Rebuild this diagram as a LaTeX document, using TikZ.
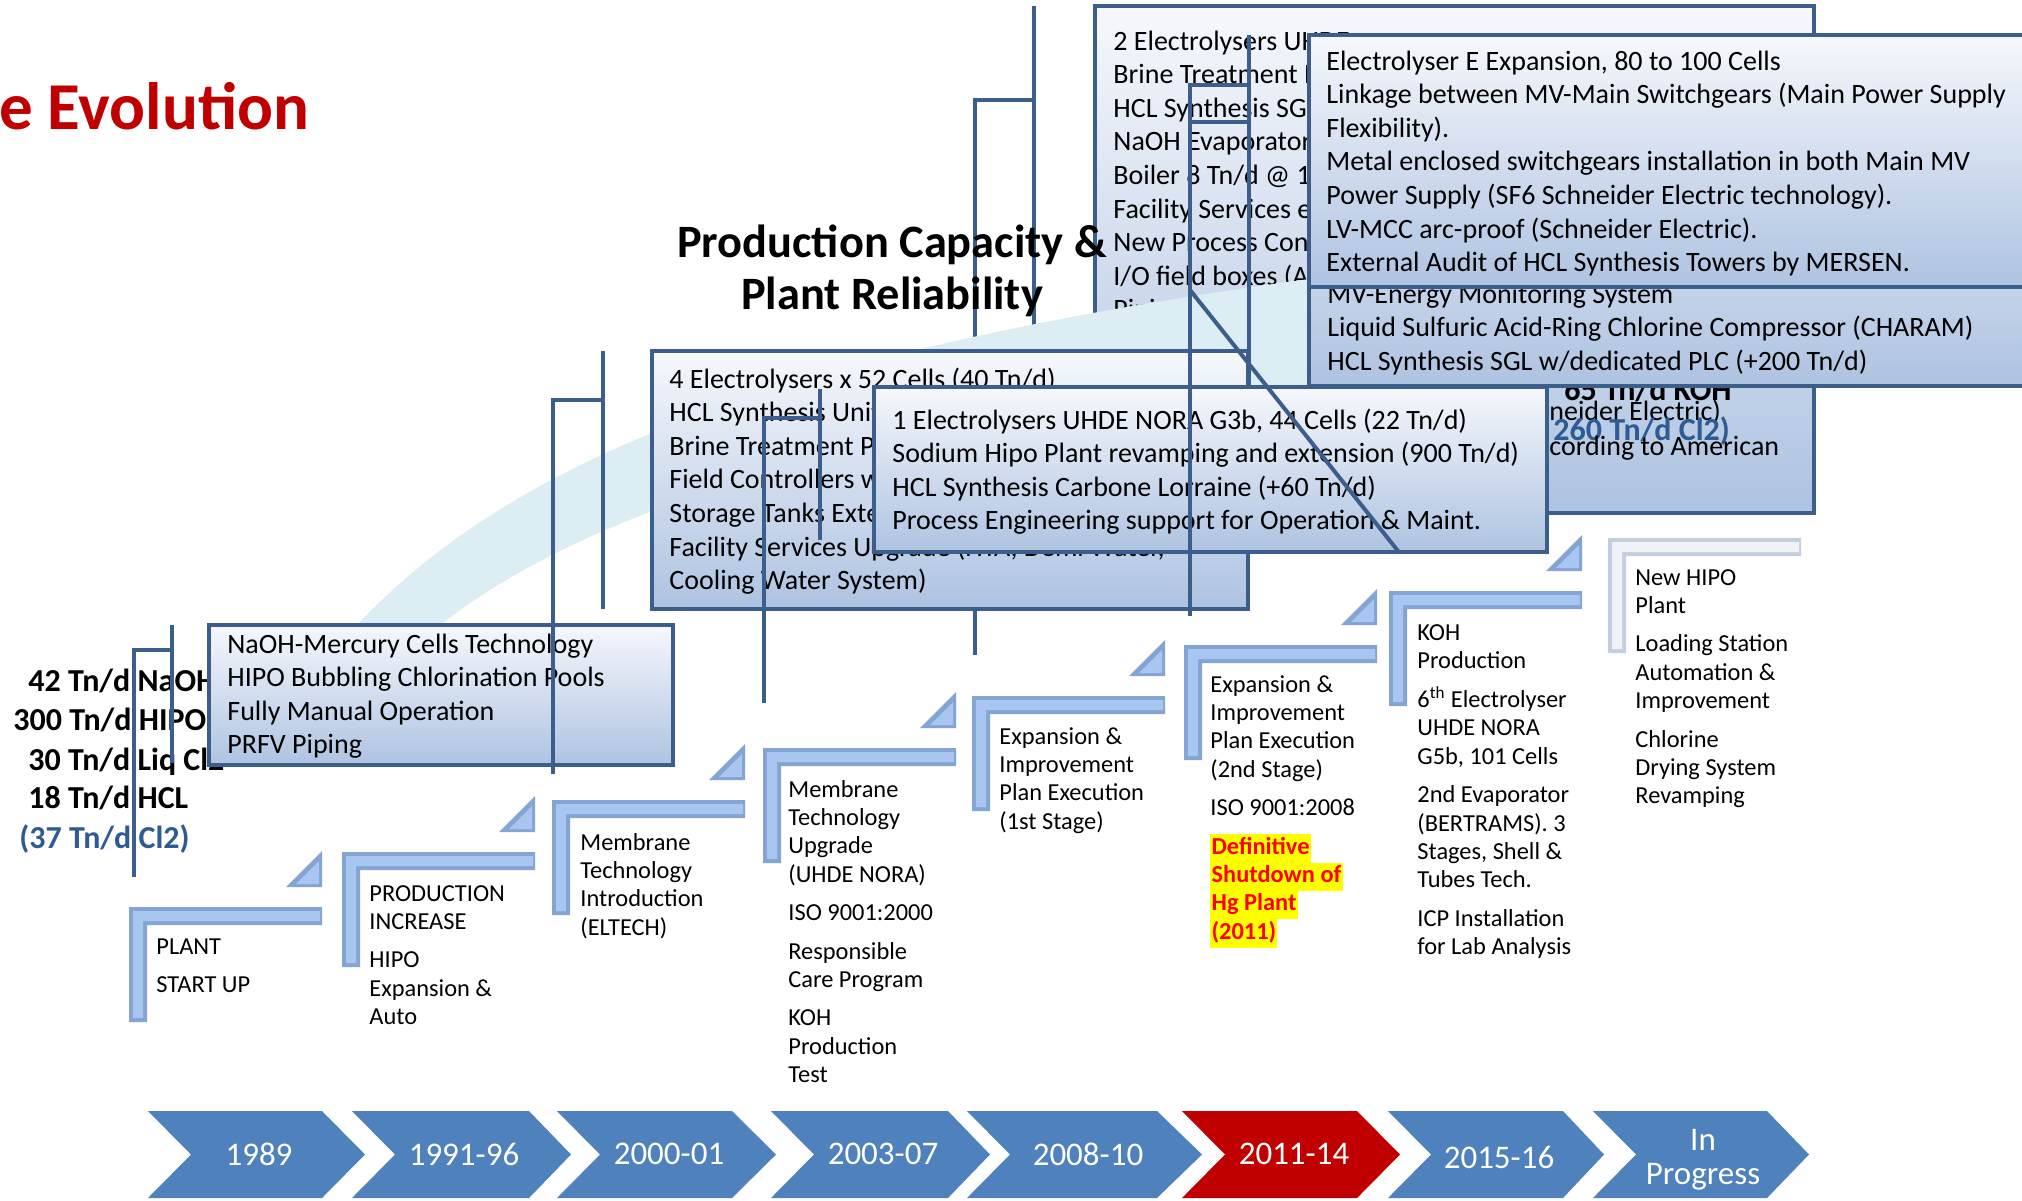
\documentclass[tikz,border=0pt]{standalone}
\usepackage{fontspec}
\setmainfont{Carlito}
\definecolor{frame}{HTML}{3C5E8C}
\definecolor{paneltop}{HTML}{F6F8FC}
\definecolor{panelbot}{HTML}{AEC3E1}
\definecolor{swoosh}{HTML}{DCEEF4}
\definecolor{titlered}{HTML}{C00000}
\definecolor{chevblue}{HTML}{4F81BD}
\definecolor{chevred}{HTML}{C00000}
\definecolor{stepdark}{HTML}{84A4D4}
\definecolor{steplight}{HTML}{A9C6F0}
\definecolor{hipodark}{HTML}{C3CFE0}
\definecolor{hipolight}{HTML}{EFF3F9}
\definecolor{cltwo}{HTML}{2F5B93}
\definecolor{hlyellow}{HTML}{FFFF00}
\definecolor{alertred}{HTML}{FF0000}

% multi-line text whose baseline is that of its first line
\newcommand\rows[1]{\begin{tabular}[t]{@{}l@{}}#1\end{tabular}}
\newcommand\hlite[1]{{\setlength\fboxsep{0pt}\colorbox{hlyellow}{\strut\hspace{0.6pt}#1\hspace{0.6pt}}}}

% L-shaped step frame: left x, top y, outer colour, inner colour
\newcommand\stepframe[4]{%
  \fill[#3] (#1,#2) -- ++(193,0) -- ++(0,18) -- ++(-175,0) -- ++(0,97) -- ++(-18,0) -- cycle;
  \fill[#4] ({#1+4},{#2+4}) -- ++(187,0) -- ++(0,10) -- ++(-177,0) -- ++(0,97) -- ++(-10,0) -- cycle;
}
% small wedge at the end of a step: right x, top y of the step
\newcommand\steptri[2]{%
  \fill[stepdark] ({#1-36},{#2-20}) -- ({#1},{#2-56}) -- ({#1},{#2-20}) -- cycle;
  \fill[steplight] ({#1-26},{#2-23}) -- ({#1-3},{#2-46}) -- ({#1-3},{#2-23}) -- cycle;
}
% timeline chevron: colour, left x, body end x, tip x
\newcommand\chevron[4]{%
  \fill[#1] (#2,1111) -- (#3,1111) -- (#4,1154.5) -- (#3,1198) -- (#2,1198) -- ({#2+43},1154.5) -- cycle;
}

\tikzset{
  panel/.style={draw=frame, line width=2.2pt, top color=paneltop, bottom color=panelbot},
  link/.style={draw=frame, line width=2pt},
  paneltext/.style={anchor=base west, inner sep=0pt, font=\fontsize{14}{16.8}\selectfont},
  steptext/.style={anchor=base west, inner sep=0pt, font=\fontsize{12.2}{14.2}\selectfont},
  prodtext/.style={anchor=base west, inner sep=0pt, font=\bfseries\fontsize{16}{19}\selectfont},
  yeartext/.style={text=white, inner sep=0pt, align=center, font=\fontsize{16.5}{17}\selectfont},
}

\begin{document}
\begin{tikzpicture}[x=0.5pt, y=-0.5pt]
\useasboundingbox (0,0) rectangle (2022,1200);

% ---------- back panel (2 electrolysers) ----------
\draw[panel] (1095,6) rectangle (1814,513);
\node[paneltext] (dtext) at (1113,50) {\rows{2 Electrolysers UHDE\\Brine Treatment Plant\\HCL Synthesis SGL\\NaOH Evaporator\\Boiler 8 Tn/d @ 1\\Facility Services e\\New Process Control\\I/O field boxes (A\\Piping}};
\node[prodtext] (koh) at (1564,400) {65 Tn/d KOH};
\node[paneltext] (dschn) at (1549,420) {neider Electric)};
\node[prodtext, text=cltwo] (dcl) at (1553,440) {260 Tn/d Cl2)};
\node[paneltext] (damer) at (1549,455) {cording to American};

% ---------- elbows running behind the swoosh ----------
\coordinate (l4a) at (1034,6);   \coordinate (l4b) at (1034,380);
\coordinate (b4a) at (1034,100); \coordinate (b4b) at (975,655);
\draw[link] (l4a) -- (l4b);
\draw[link] (b4a) -| (b4b);

% ---------- swoosh ----------
\fill[swoosh] (357,625) .. controls (517,455) and (800,338) .. (1420,265)
  -- (1420,400) .. controls (1000,400) and (640,470) .. (440,625) -- cycle;

% ---------- right panels ----------
\draw[panel] (1309,60) rectangle (2040,386);
\node[paneltext] (e2text) at (1327,303) {\rows{MV-Energy Monitoring System\\Liquid Sulfuric Acid-Ring Chlorine Compressor (CHARAM)\\HCL Synthesis SGL w/dedicated PLC (+200 Tn/d)}};
\draw[panel] (1309,35) rectangle (2040,287);
\node[paneltext] (e1text) at (1326,70) {\rows{Electrolyser E Expansion, 80 to 100 Cells\\Linkage between MV-Main Switchgears (Main Power Supply\\Flexibility).\\Metal enclosed switchgears installation in both Main MV\\Power Supply (SF6 Schneider Electric technology).\\LV-MCC arc-proof (Schneider Electric).\\External Audit of HCL Synthesis Towers by MERSEN.}};

% ---------- initial capacity ----------
\node[prodtext] (p1) at (28,691) {42 Tn/d NaOH};
\node[prodtext] (p2) at (13,730) {300 Tn/d HIPO};
\node[prodtext] (p3) at (28,770) {30 Tn/d Liq Cl2};
\node[prodtext] (p4) at (28,808) {18 Tn/d HCL};
\node[prodtext, text=cltwo] (p5) at (19,848) {(37 Tn/d Cl2)};

% ---------- front panels ----------
\draw[panel] (209,625) rectangle (673,765);
\node[paneltext] (atext) at (227,653) {\rows{NaOH-Mercury Cells Technology\\HIPO Bubbling Chlorination Pools\\Fully Manual Operation\\PRFV Piping}};
\draw[panel] (652,351) rectangle (1248,609);
\node[paneltext] (btext) at (669,388) {\rows{4 Electrolysers x 52 Cells (40 Tn/d)\\HCL Synthesis Unit\\Brine Treatment Plant\\Field Controllers with\\Storage Tanks Extension\\Facility Services Upgrade (HTA, Demi Water,\\Cooling Water System)}};
\draw[panel] (874,387) rectangle (1547,552);
\node[paneltext] (ctext) at (892,429) {\rows{1 Electrolysers UHDE NORA G3b, 44 Cells (22 Tn/d)\\Sodium Hipo Plant revamping and extension (900 Tn/d)\\HCL Synthesis Carbone Lorraine (+60 Tn/d)\\Process Engineering support for Operation \& Maint.}};

% ---------- elbows on top ----------
\coordinate (l1a) at (172,625); \coordinate (l1b) at (172,763);
\coordinate (b1a) at (172,650); \coordinate (b1b) at (134,877);
\coordinate (l2a) at (603,351); \coordinate (l2b) at (603,609);
\coordinate (b2a) at (603,400); \coordinate (b2b) at (553,774);
\coordinate (l3a) at (820,389); \coordinate (l3b) at (820,540);
\coordinate (b3a) at (820,418); \coordinate (b3b) at (764,703);
\coordinate (l5a) at (1249,35); \coordinate (l5b) at (1249,387);
\coordinate (b5a) at (1249,85); \coordinate (b5b) at (1190,616);
\coordinate (b5c) at (1249,122); \coordinate (b5d) at (1190,122);
\coordinate (dga) at (1190,290); \coordinate (dgb) at (1398,551);
\draw[link] (l1a) -- (l1b);
\draw[link] (b1a) -| (b1b);
\draw[link] (l2a) -- (l2b);
\draw[link] (b2a) -| (b2b);
\draw[link] (l3a) -- (l3b);
\draw[link] (b3a) -| (b3b);
\draw[link] (l5a) -- (l5b);
\draw[link] (b5a) -| (b5b);
\draw[link] (b5c) -- (b5d);
\draw[link] (dga) -- (dgb);

% ---------- headings ----------
\node[anchor=base east, inner sep=0pt, text=titlered, font=\bfseries\fontsize{33.5}{36}\selectfont] (title) at (310,129) {ce Evolution};
\node[inner sep=0pt, align=center, font=\bfseries\fontsize{23.2}{25.8}\selectfont] (head) at (892,271) {Production Capacity \&\\Plant Reliability};

% ---------- steps ----------
\stepframe{129}{907}{stepdark}{steplight}
\stepframe{342}{852}{stepdark}{steplight}
\stepframe{552}{800}{stepdark}{steplight}
\stepframe{763}{748}{stepdark}{steplight}
\stepframe{972}{696}{stepdark}{steplight}
\stepframe{1184}{645}{stepdark}{steplight}
\stepframe{1389}{591}{stepdark}{steplight}
\stepframe{1608}{538}{hipodark}{hipolight}
\steptri{322}{907}
\steptri{535}{852}
\steptri{745}{800}
\steptri{956}{748}
\steptri{1165}{696}
\steptri{1377}{645}
\steptri{1582}{591}

\node[steptext] (s1) at (156,954) {\rows{PLANT\\[5pt]START UP}};
\node[steptext] (s2) at (369,901) {\rows{PRODUCTION\\INCREASE\\[5pt]HIPO\\Expansion \&\\Auto}};
\node[steptext] (s3) at (580,850) {\rows{Membrane\\Technology\\Introduction\\(ELTECH)}};
\node[steptext] (s4) at (788,797) {\rows{Membrane\\Technology\\Upgrade\\(UHDE NORA)\\[5pt]ISO 9001:2000\\[5pt]Responsible\\Care Program\\[5pt]KOH\\Production\\Test}};
\node[steptext] (s5) at (999,744) {\rows{Expansion \&\\Improvement\\Plan Execution\\(1st Stage)}};
\node[steptext] (s6) at (1210,692) {\rows{Expansion \&\\Improvement\\Plan Execution\\(2nd Stage)\\[5pt]ISO 9001:2008\\[5pt]\color{alertred}\bfseries\hlite{Definitive}\\\color{alertred}\bfseries\hlite{Shutdown of}\\\color{alertred}\bfseries\hlite{Hg Plant}\\\color{alertred}\bfseries\hlite{(2011)}}};
\node[steptext] (s7) at (1417,640) {\rows{KOH\\Production\\[5pt]6\textsuperscript{th} Electrolyser\\UHDE NORA\\G5b, 101 Cells\\[5pt]2nd Evaporator\\(BERTRAMS). 3\\Stages, Shell \&\\Tubes Tech.\\[5pt]ICP Installation\\for Lab Analysis}};
\node[steptext] (s8) at (1635,585) {\rows{New HIPO\\Plant\\[5pt]Loading Station\\Automation \&\\Improvement\\[5pt]Chlorine\\Drying System\\Revamping}};

% ---------- timeline ----------
\chevron{chevblue}{148}{322}{365}
\chevron{chevblue}{352}{529}{571}
\chevron{chevblue}{557}{732}{776}
\chevron{chevblue}{771}{948}{990}
\chevron{chevblue}{967}{1157}{1202}
\chevron{chevred}{1182}{1357}{1400}
\chevron{chevblue}{1388}{1563}{1604}
\chevron{chevblue}{1593}{1767}{1809}
\node[yeartext] (y1) at (259,1154) {1989};
\node[yeartext] (y2) at (464,1154) {1991-96};
\node[yeartext] (y3) at (669,1154) {2000-01};
\node[yeartext] (y4) at (883,1154) {2003-07};
\node[yeartext] (y5) at (1088,1154) {2008-10};
\node[yeartext] (y6) at (1294,1154) {2011-14};
\node[yeartext] (y7) at (1499,1157) {2015-16};
\node[yeartext] (y8) at (1703,1160) {In\\Progress};
\end{tikzpicture}
\end{document}
